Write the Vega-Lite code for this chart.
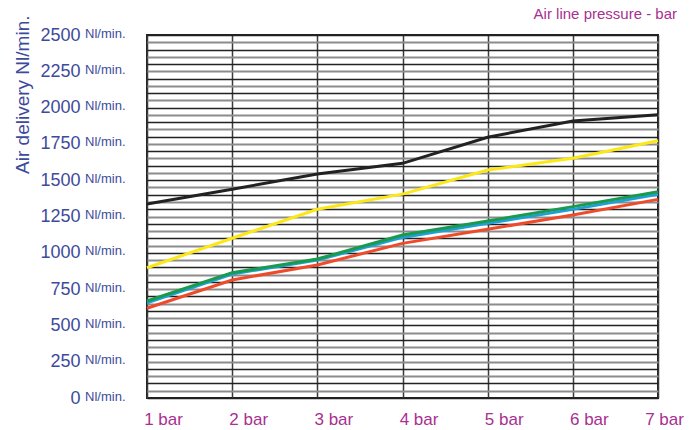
{
  "$schema": "https://vega.github.io/schema/vega-lite/v6.json",
  "width": 511,
  "height": 363,
  "autosize": {"type": "none"},
  "padding": {"left": 147, "top": 35, "right": 41, "bottom": 32},
  "background": "white",
  "config": {"view": {"stroke": "#222222", "strokeWidth": 2}, "font": "Liberation Sans"},
  "title": {"text": "Air line pressure - bar", "anchor": "end", "frame": "group", "color": "#a8308f", "fontSize": 15, "fontWeight": "normal", "dx": 19, "offset": 0, "dy": 7},
  "data": {"values": [
    {"series": "red", "pressure": 1, "delivery": 618},
    {"series": "red", "pressure": 2, "delivery": 813},
    {"series": "red", "pressure": 3, "delivery": 916},
    {"series": "red", "pressure": 4, "delivery": 1065},
    {"series": "red", "pressure": 5, "delivery": 1162},
    {"series": "red", "pressure": 6, "delivery": 1260},
    {"series": "red", "pressure": 7, "delivery": 1368},
    {"series": "blue", "pressure": 1, "delivery": 656},
    {"series": "blue", "pressure": 2, "delivery": 854},
    {"series": "blue", "pressure": 3, "delivery": 950},
    {"series": "blue", "pressure": 4, "delivery": 1106},
    {"series": "blue", "pressure": 5, "delivery": 1203},
    {"series": "blue", "pressure": 6, "delivery": 1299},
    {"series": "blue", "pressure": 7, "delivery": 1403},
    {"series": "green", "pressure": 1, "delivery": 668},
    {"series": "green", "pressure": 2, "delivery": 863},
    {"series": "green", "pressure": 3, "delivery": 957},
    {"series": "green", "pressure": 4, "delivery": 1123},
    {"series": "green", "pressure": 5, "delivery": 1219},
    {"series": "green", "pressure": 6, "delivery": 1318},
    {"series": "green", "pressure": 7, "delivery": 1421},
    {"series": "yellow", "pressure": 1, "delivery": 897},
    {"series": "yellow", "pressure": 2, "delivery": 1100},
    {"series": "yellow", "pressure": 3, "delivery": 1300},
    {"series": "yellow", "pressure": 4, "delivery": 1404},
    {"series": "yellow", "pressure": 5, "delivery": 1570},
    {"series": "yellow", "pressure": 6, "delivery": 1651},
    {"series": "yellow", "pressure": 7, "delivery": 1772},
    {"series": "black", "pressure": 1, "delivery": 1336},
    {"series": "black", "pressure": 2, "delivery": 1438},
    {"series": "black", "pressure": 3, "delivery": 1543},
    {"series": "black", "pressure": 4, "delivery": 1616},
    {"series": "black", "pressure": 5, "delivery": 1796},
    {"series": "black", "pressure": 6, "delivery": 1908},
    {"series": "black", "pressure": 7, "delivery": 1950}
  ]},
  "layer": [
    {
      "mark": {"type": "line", "strokeWidth": 3},
      "encoding": {
        "x": {
          "field": "pressure", "type": "quantitative",
          "scale": {"domain": [1, 7], "nice": false, "zero": false},
          "axis": {
            "values": [1, 2, 3, 4, 5, 6, 7],
            "labelExpr": "datum.value + ' bar'",
            "title": null,
            "grid": true, "gridColor": "#3a3a3a", "gridWidth": 1.5,
            "ticks": false, "domain": false,
            "labelColor": "#a8308f", "labelFontSize": 17, "labelPadding": 13,
            "labelAlign": "center", "labelFlush": false,
            "labelOffset": {"condition": {"test": "datum.value === 7", "value": 6}, "value": 16}
          }
        },
        "y": {
          "field": "delivery", "type": "quantitative",
          "scale": {"domain": [0, 2500], "nice": false},
          "axis": {
            "values": [0,50,100,150,200,250,300,350,400,450,500,550,600,650,700,750,800,850,900,950,1000,1050,1100,1150,1200,1250,1300,1350,1400,1450,1500,1550,1600,1650,1700,1750,1800,1850,1900,1950,2000,2050,2100,2150,2200,2250,2300,2350,2400,2450,2500],
            "labelExpr": "datum.value % 250 === 0 ? datum.value : ''",
            "grid": true,
            "gridColor": {"condition": {"test": "datum.value % 100 === 0", "value": "#222222"}, "value": "#8c8c8c"},
            "gridWidth": {"condition": {"test": "datum.value % 100 === 0", "value": 1.5}, "value": 2},
            "ticks": false, "domain": false,
            "labelColor": "#3d4b9c", "labelFontSize": 18, "labelPadding": 67,
            "labelAlign": "right", "labelBaseline": "middle",
            "title": "Air delivery Nl/min.",
            "titleColor": "#3d4b9c", "titleFontSize": 19, "titleFontWeight": "normal",
            "titleAngle": -90, "titleX": -125, "titleY": -20,
            "titleAlign": "right", "titleBaseline": "middle"
          }
        },
        "color": {
          "field": "series", "type": "nominal",
          "scale": {"domain": ["red", "blue", "green", "yellow", "black"], "range": ["#ee4b2b", "#1e9fd8", "#1a9a4c", "#fbe816", "#222222"]},
          "legend": null
        },
        "order": {"field": "pressure"}
      }
    },
    {
      "mark": {"type": "line", "strokeOpacity": 0},
      "encoding": {
        "x": {"field": "pressure", "type": "quantitative"},
        "y": {
          "field": "delivery", "type": "quantitative",
          "scale": {"domain": [0, 2500], "nice": false},
          "axis": {
            "orient": "left",
            "values": [0,250,500,750,1000,1250,1500,1750,2000,2250,2500],
            "labelExpr": "'Nl/min.'",
            "grid": false, "ticks": false, "domain": false,
            "labelColor": "#3d4b9c", "labelFontSize": 13, "labelPadding": 22,
            "labelAlign": "right", "labelBaseline": "middle", "labelOffset": -2,
            "title": null
          }
        },
        "detail": {"field": "series"}
      }
    }
  ],
  "resolve": {"axis": {"y": "independent"}}
}
